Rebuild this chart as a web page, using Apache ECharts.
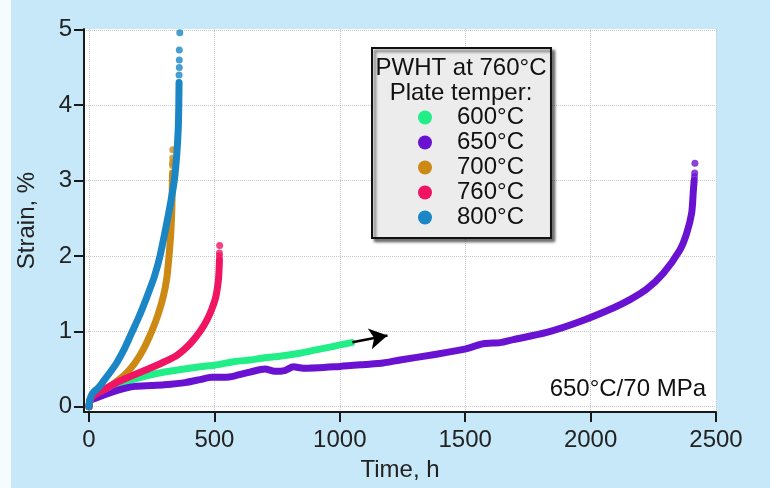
<!DOCTYPE html>
<html>
<head>
<meta charset="utf-8">
<script src="https://cdn.jsdelivr.net/npm/echarts@6/dist/echarts.min.js"></script>
<style>
html,body{margin:0;padding:0;background:#c6e8f8;}
#chart{width:770px;height:488px;}
</style>
</head>
<body>
<div id="chart"></div>
<script>
// ---- data (time h, strain %) ----
const names = ['600°C', '650°C', '700°C', '760°C', '800°C'];
const colors = ['#22ee88', '#6a12d2', '#cc8a14', '#f01462', '#1a86c6'];
const xTicks = [0, 500, 1000, 1500, 2000, 2500];
const yTicks = [0, 1, 2, 3, 4, 5];

const s600 = [[0,0],[5,0.1],[31,0.15],[97,0.28],[163,0.35],[230,0.41],[300,0.46],[443,0.53],[500,0.55],[582,0.6],[642,0.62],[700,0.65],[760,0.67],[841,0.71],[900,0.75],[960,0.79],[1000,0.82],[1047,0.85]];
const s650 = [[0,0],[5,0.08],[31,0.12],[97,0.2],[150,0.25],[183,0.27],[250,0.28],[300,0.29],[383,0.32],[443,0.36],[489,0.39],[540,0.39],[582,0.41],[642,0.46],[702,0.5],[740,0.47],[780,0.48],[815,0.53],[855,0.51],[1001,0.535],[1100,0.56],[1173,0.58],[1240,0.62],[1373,0.69],[1493,0.76],[1572,0.835],[1639,0.85],[1692,0.89],[1825,0.985],[1958,1.13],[2090,1.31],[2157,1.42],[2224,1.56],[2290,1.77],[2356,2.08],[2383,2.3],[2403,2.57],[2410,2.88],[2413,3.0]];
const s700 = [[0,0],[5,0.1],[20,0.16],[50,0.21],[84,0.27],[120,0.36],[150,0.45],[183,0.58],[215,0.75],[250,1.0],[275,1.22],[296,1.46],[310,1.7],[319,2.0],[326,2.3],[330,2.6],[332,2.9],[333,3.1]];
const s760 = [[0,0],[5,0.1],[20,0.15],[50,0.21],[104,0.31],[150,0.38],[200,0.45],[250,0.52],[303,0.6],[350,0.68],[380,0.76],[410,0.86],[443,1.0],[470,1.15],[489,1.29],[505,1.45],[516,1.68],[519,1.85],[520,1.95]];
const s800 = [[0,0],[2,0.07],[8,0.14],[20,0.2],[37,0.25],[60,0.35],[85,0.46],[110,0.58],[140,0.76],[170,0.98],[200,1.2],[230,1.45],[260,1.72],[283,2.0],[305,2.35],[325,2.7],[340,3.0],[350,3.35],[356,3.7],[358,4.0],[359,4.3]];

const tail600 = [];
const tail650 = [[2414,3.05],[2415,3.1],[2416,3.23]];
const tail700 = [[333,3.2],[333,3.24],[334,3.3],[334,3.41]];
const tail760 = [[520,2.0],[520,2.04],[521,2.14]];
const tail800 = [[359,4.4],[360,4.5],[360,4.6],[360,4.73],[362,4.96]];

const arrowFrom = [1050, 0.855];
const arrowTo = [1190, 0.945];

const curves = [s600, s650, s700, s760, s800];
const tails = [tail600, tail650, tail700, tail760, tail800];

const FONT = "'Liberation Sans', Arial, sans-serif";
const FS = 24;

const series = [];
curves.forEach((d, i) => {
  const s = {
    name: names[i], type: 'line', data: d, color: colors[i],
    showSymbol: false, symbol: 'none', smooth: 0.25,
    lineStyle: { width: 7, color: colors[i], cap: 'round', join: 'round' },
    z: 2 + i
  };
  if (i === 0) {
    s.markLine = {
      silent: true, symbol: ['none', 'arrow'], symbolSize: [16, 18],
      label: { show: false },
      lineStyle: { color: '#000', width: 2.5, type: 'solid' },
      data: [[{ coord: arrowFrom }, { coord: arrowTo }]]
    };
  }
  series.push(s);
});
tails.forEach((d, i) => {
  if (!d.length) return;
  series.push({
    name: names[i], type: 'scatter', data: d, color: colors[i],
    symbol: 'circle', symbolSize: 7, itemStyle: { color: colors[i] }, z: 2 + i
  });
});

const chart = echarts.init(document.getElementById('chart'), null, { renderer: 'canvas' });
chart.setOption({
  animation: false,
  backgroundColor: '#c6e8f8',
  textStyle: { fontFamily: FONT },
  grid: { left: 84, right: 54, top: 29, bottom: 76, show: true, backgroundColor: '#ffffff', borderWidth: 0, containLabel: false },
  xAxis: {
    type: 'value', min: -20, max: 2500,
    name: 'Time, h', nameLocation: 'middle', nameGap: 46,
    nameTextStyle: { fontSize: FS, color: '#222', fontFamily: FONT },
    axisLine: { show: true, onZero: false, lineStyle: { color: '#1a1a1a', width: 2 } },
    axisTick: { show: true, length: 10, customValues: xTicks, lineStyle: { color: '#1a1a1a', width: 2 } },
    axisLabel: { customValues: xTicks, fontSize: FS, color: '#222', margin: 16, fontFamily: FONT, formatter: v => String(v) },
    splitLine: { show: true, lineStyle: { color: '#c8c8c8', type: 'dotted', width: 1 } }
  },
  yAxis: {
    type: 'value', min: -0.07, max: 5.01,
    name: 'Strain, %', nameLocation: 'middle', nameGap: 45,
    nameTextStyle: { fontSize: FS, color: '#222', fontFamily: FONT },
    axisLine: { show: true, onZero: false, lineStyle: { color: '#1a1a1a', width: 2 } },
    axisTick: { show: true, length: 10, customValues: yTicks, lineStyle: { color: '#1a1a1a', width: 2 } },
    axisLabel: { customValues: yTicks, fontSize: FS, color: '#222', margin: 12, fontFamily: FONT, formatter: v => String(v) },
    splitLine: { show: true, lineStyle: { color: '#c8c8c8', type: 'dotted', width: 1 } }
  },
  legend: {
    orient: 'vertical', left: 372, top: 48,
    data: names, icon: 'circle', itemWidth: 54, itemHeight: 14, itemGap: 0,
    padding: [57, 27, 8, 46],
    backgroundColor: '#ececec', borderColor: '#111', borderWidth: 2, borderRadius: 0,
    shadowColor: 'rgba(0,0,0,0.55)', shadowBlur: 3, shadowOffsetX: 3, shadowOffsetY: 3,
    selectedMode: false,
    textStyle: { fontSize: FS, color: '#111', lineHeight: 25, fontFamily: FONT }
  },
  graphic: [
    { type: 'rect', left: 0, top: 0, shape: { width: 11, height: 488 }, style: { fill: '#f6fbfe' }, z: -1 },
    { type: 'text', x: 461, y: 68, z: 100, style: { text: 'PWHT at 760°C', fontSize: FS, fontFamily: FONT, fill: '#111', align: 'center', verticalAlign: 'middle' } },
    { type: 'text', x: 461, y: 93, z: 100, style: { text: 'Plate temper:', fontSize: FS, fontFamily: FONT, fill: '#111', align: 'center', verticalAlign: 'middle' } },
    { type: 'text', x: 706, y: 389, z: 100, style: { text: '650°C/70 MPa', fontSize: FS, fontFamily: FONT, fill: '#111', align: 'right', verticalAlign: 'middle' } }
  ],
  series: series
});
</script>
</body>
</html>
